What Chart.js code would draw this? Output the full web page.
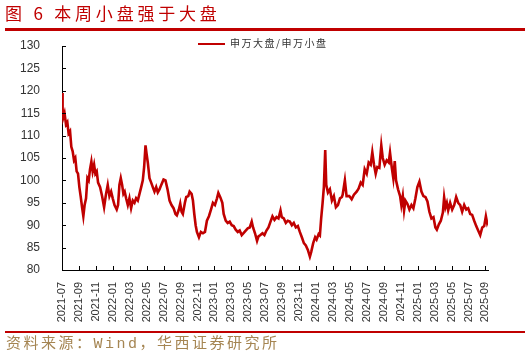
<!DOCTYPE html>
<html>
<head>
<meta charset="utf-8">
<script src="https://cdn.jsdelivr.net/npm/chart.js@4.4.0/dist/chart.umd.min.js"></script>
<style>
  body { margin: 0; background: #fff; }
  #wrap { position: relative; width: 525px; height: 360px; overflow: hidden; }
  #title { position: absolute; left: 5px; top: 2px; font: 17px "Noto Sans CJK SC", sans-serif; color: #c00000; letter-spacing: 3.8px; line-height: 22px; white-space: pre; }
  .rule { position: absolute; left: 5px; right: 0; height: 3px; background: #c00000; }
  #legend { position: absolute; left: 198px; top: 36px; font: 10px "Noto Sans CJK SC", sans-serif; color: #333; letter-spacing: 1.5px; line-height: 14px; white-space: pre; }
  #legend i { display: inline-block; width: 27px; height: 2px; background: #c00000; vertical-align: middle; margin-right: 5px; }
  #source { position: absolute; left: 6px; top: 335px; font: 15px "Liberation Mono", "Noto Sans CJK SC", monospace; color: #a58552; letter-spacing: 2.5px; line-height: 20px; white-space: pre; }
  canvas { position: absolute; left: 0; top: 0; }
</style>
</head>
<body>
<div id="wrap">
  <canvas id="ratioChart" width="525" height="360"></canvas>
  <div id="title">图 6 本周小盘强于大盘</div>
  <div class="rule" style="top:28px"></div>
  <div id="legend"><i></i>申万大盘/申万小盘</div>
  <div class="rule" style="top:331px;height:2px"></div>
  <div id="source">资料来源：Wind，华西证券研究所</div>
</div>
<script>
// x position in months since 2021-07
const monthPos = [
  0.0, 0.07, 0.15, 0.3, 0.47, 0.63, 0.78, 0.95, 1.1, 1.26, 1.42, 1.57, 1.73, 1.89, 2.05, 2.2, 2.37, 2.52, 2.67, 2.84,
  3.0, 3.15, 3.31, 3.47, 3.62, 3.79, 3.94, 4.1, 4.26, 4.5, 4.73, 4.97, 5.2, 5.4, 5.6, 5.8, 5.99, 6.2, 6.46, 6.62,
  6.78, 6.94, 7.1, 7.25, 7.4, 7.57, 7.77, 7.96, 8.16, 8.36, 8.56, 8.75, 8.95, 9.15, 9.35, 9.54, 9.7, 9.86, 9.98, 10.13,
  10.33, 10.53, 10.72, 10.92, 11.12, 11.31, 11.51, 11.72, 11.99, 12.22, 12.46, 12.7, 12.93, 13.17, 13.4, 13.56, 13.8, 13.96, 14.12, 14.27,
  14.51, 14.67, 14.91, 15.07, 15.3, 15.46, 15.62, 15.78, 15.93, 16.17, 16.4, 16.64, 16.88, 17.11, 17.35, 17.59, 17.82, 18.06, 18.3, 18.46,
  18.7, 18.93, 19.09, 19.33, 19.56, 19.8, 20.04, 20.27, 20.51, 20.75, 20.98, 21.22, 21.46, 21.69, 21.93, 22.17, 22.4, 22.56, 22.79, 23.03,
  23.2, 23.43, 23.67, 23.9, 24.14, 24.38, 24.62, 24.85, 25.09, 25.33, 25.56, 25.8, 25.95, 26.19, 26.43, 26.66, 26.9, 27.14, 27.37, 27.61,
  27.85, 28.08, 28.32, 28.56, 28.79, 29.03, 29.27, 29.42, 29.66, 29.89, 30.06, 30.3, 30.45, 30.6, 30.77, 30.92, 31.08, 31.2, 31.4, 31.63,
  31.87, 32.1, 32.34, 32.58, 32.82, 33.05, 33.14, 33.4, 33.6, 33.92, 34.2, 34.47, 34.79, 35.03, 35.27, 35.5, 35.74, 35.98, 36.21, 36.45,
  36.64, 36.84, 37.04, 37.23, 37.47, 37.7, 37.87, 38.1, 38.34, 38.58, 38.73, 38.93, 39.12, 39.29, 39.44, 39.68, 39.92, 40.07, 40.24, 40.39,
  40.55, 40.78, 41.02, 41.26, 41.49, 41.73, 41.96, 42.2, 42.44, 42.67, 42.91, 43.15, 43.38, 43.62, 43.86, 44.09, 44.26, 44.5, 44.73, 44.97,
  45.12, 45.28, 45.44, 45.6, 45.83, 46.07, 46.31, 46.54, 46.78, 47.02, 47.25, 47.49, 47.73, 47.96, 48.2, 48.43, 48.67, 48.91, 49.14, 49.38,
  49.62, 49.85, 50.05, 50.2, 50.3
];
// 申万大盘/申万小盘
const ratio = [
  119.5, 116, 114, 115, 112.5, 113, 110.5, 111, 107.5, 106.5, 104.5, 105, 102, 101.5, 98.5, 96.5, 94, 92, 94.5, 96,
  100.5, 100, 102.5, 104.2, 102, 103.5, 101.5, 102, 99.5, 98.5, 96.5, 94, 97, 99, 96.5, 97.5, 96, 94.5, 93.5, 94.5,
  99, 100.5, 99, 97, 97.5, 96, 94.5, 96, 93.8, 95.5, 95, 96, 95.5, 97, 98.5, 100, 103, 107.8, 106, 104,
  100.5, 99.5, 98.5, 97.5, 98.5, 97.3, 98, 99, 100.2, 100, 98, 95.5, 94.5, 93.8, 92.5, 92.2, 93.5, 94.8, 93, 92.5,
  95, 96.3, 96.5, 97.5, 97, 95.5, 92.5, 90, 88.5, 87.3, 88.5, 88.2, 88.5, 91, 92, 93.5, 95, 94.5, 96, 97.2,
  96.2, 95, 92.5, 91, 90.5, 90.8, 90, 89.8, 89, 88.5, 88.8, 87.8, 88.3, 88.8, 89.3, 89.5, 90.8, 89.5, 88.2, 86.5,
  87.5, 87.8, 88.2, 87.8, 88.8, 89.5, 90.8, 92, 91.2, 91.8, 91.5, 93.3, 91.8, 91.5, 90.5, 91, 90.8, 90, 90.5, 89.5,
  89.8, 88.5, 87.3, 86, 85.5, 84.5, 83, 84, 86, 87.3, 86.8, 88, 87.7, 91.5, 95, 98.5, 106.8, 99, 97.3, 98,
  95.5, 96.5, 94, 94.5, 96, 96.3, 96.8, 100, 96.5, 96.5, 95.8, 96.8, 97.5, 98.2, 99.5, 99, 102.5, 101.5, 104, 103.5,
  106.3, 103.5, 101.5, 103, 102.8, 107.8, 105, 103.5, 104.5, 104, 106.2, 103, 100.5, 104.3, 100, 98, 96.5, 94.5, 96.5, 93.3,
  95.5, 94.8, 93.5, 94.5, 93.8, 96, 98.5, 99.7, 97.5, 96.5, 96.3, 95.3, 93, 91.5, 91.8, 89.5, 89, 90.2, 91, 92.8,
  96.2, 94, 95, 93.3, 95, 93.5, 94.5, 96.3, 95, 94.5, 93, 94.5, 93.5, 93.8, 92.5, 92.3, 91, 89.8, 88.8, 87.8,
  89.5, 89.8, 92, 90.5, 91
];
const xTickLabels = [
  '2021-07', '2021-09', '2021-11', '2022-01', '2022-03', '2022-05', '2022-07', '2022-09', '2022-11',
  '2023-01', '2023-03', '2023-05', '2023-07', '2023-09', '2023-11', '2024-01', '2024-03', '2024-05',
  '2024-07', '2024-09', '2024-11', '2025-01', '2025-03', '2025-05', '2025-07', '2025-09'
];
const yMin = 80, yMax = 130, yStep = 5;

// small tick marks drawn on the inside of both axes
const innerTicks = {
  id: 'innerTicks',
  afterDraw(chart) {
    const { ctx, chartArea, scales } = chart;
    ctx.save();
    ctx.strokeStyle = '#000';
    ctx.lineWidth = 1;
    ctx.beginPath();
    scales.y.ticks.forEach(t => {
      const y = Math.round(scales.y.getPixelForValue(t.value)) + 0.5;
      ctx.moveTo(chartArea.left, y);
      ctx.lineTo(chartArea.left + 4, y);
    });
    scales.x.ticks.forEach(t => {
      const x = Math.round(scales.x.getPixelForValue(t.value)) + 0.5;
      ctx.moveTo(x, chartArea.bottom);
      ctx.lineTo(x, chartArea.bottom - 4);
    });
    ctx.stroke();
    ctx.restore();
  }
};

const ctx = document.getElementById('ratioChart');
new Chart(ctx.getContext('2d'), {
  type: 'line',
  data: {
    datasets: [{
      label: '申万大盘/申万小盘',
      data: monthPos.map((m, i) => ({ x: m, y: ratio[i] })),
      borderColor: '#c00000',
      borderWidth: 2.6,
      pointRadius: 0,
      tension: 0,
      fill: false
    }]
  },
  options: {
    responsive: false,
    animation: false,
    layout: { padding: { left: 0, right: 37, top: 46, bottom: 30 } },
    plugins: {
      legend: { display: false },
      tooltip: { enabled: false },
      title: { display: false }
    },
    scales: {
      x: {
        type: 'linear',
        min: 0,
        max: 50.3,
        grid: { display: false },
        border: { display: true, color: '#000', width: 1 },
        afterBuildTicks: scale => {
          scale.ticks = xTickLabels.map((_, i) => ({ value: i * 2 }));
        },
        afterFit: scale => { scale.height = 60; },
        ticks: {
          autoSkip: false,
          minRotation: 90,
          maxRotation: 90,
          padding: 4,
          color: '#333',
          font: { family: '"Liberation Sans", Arial, sans-serif', size: 11 },
          callback: v => xTickLabels[Math.round(v / 2)]
        }
      },
      y: {
        min: yMin,
        max: yMax,
        grid: { display: false },
        border: { display: true, color: '#000', width: 1 },
        afterFit: scale => { scale.width = 62; },
        ticks: {
          stepSize: yStep,
          padding: 14,
          color: '#333',
          font: { family: '"Liberation Sans", Arial, sans-serif', size: 12 }
        }
      }
    }
  },
  plugins: [innerTicks]
});
</script>
</body>
</html>
